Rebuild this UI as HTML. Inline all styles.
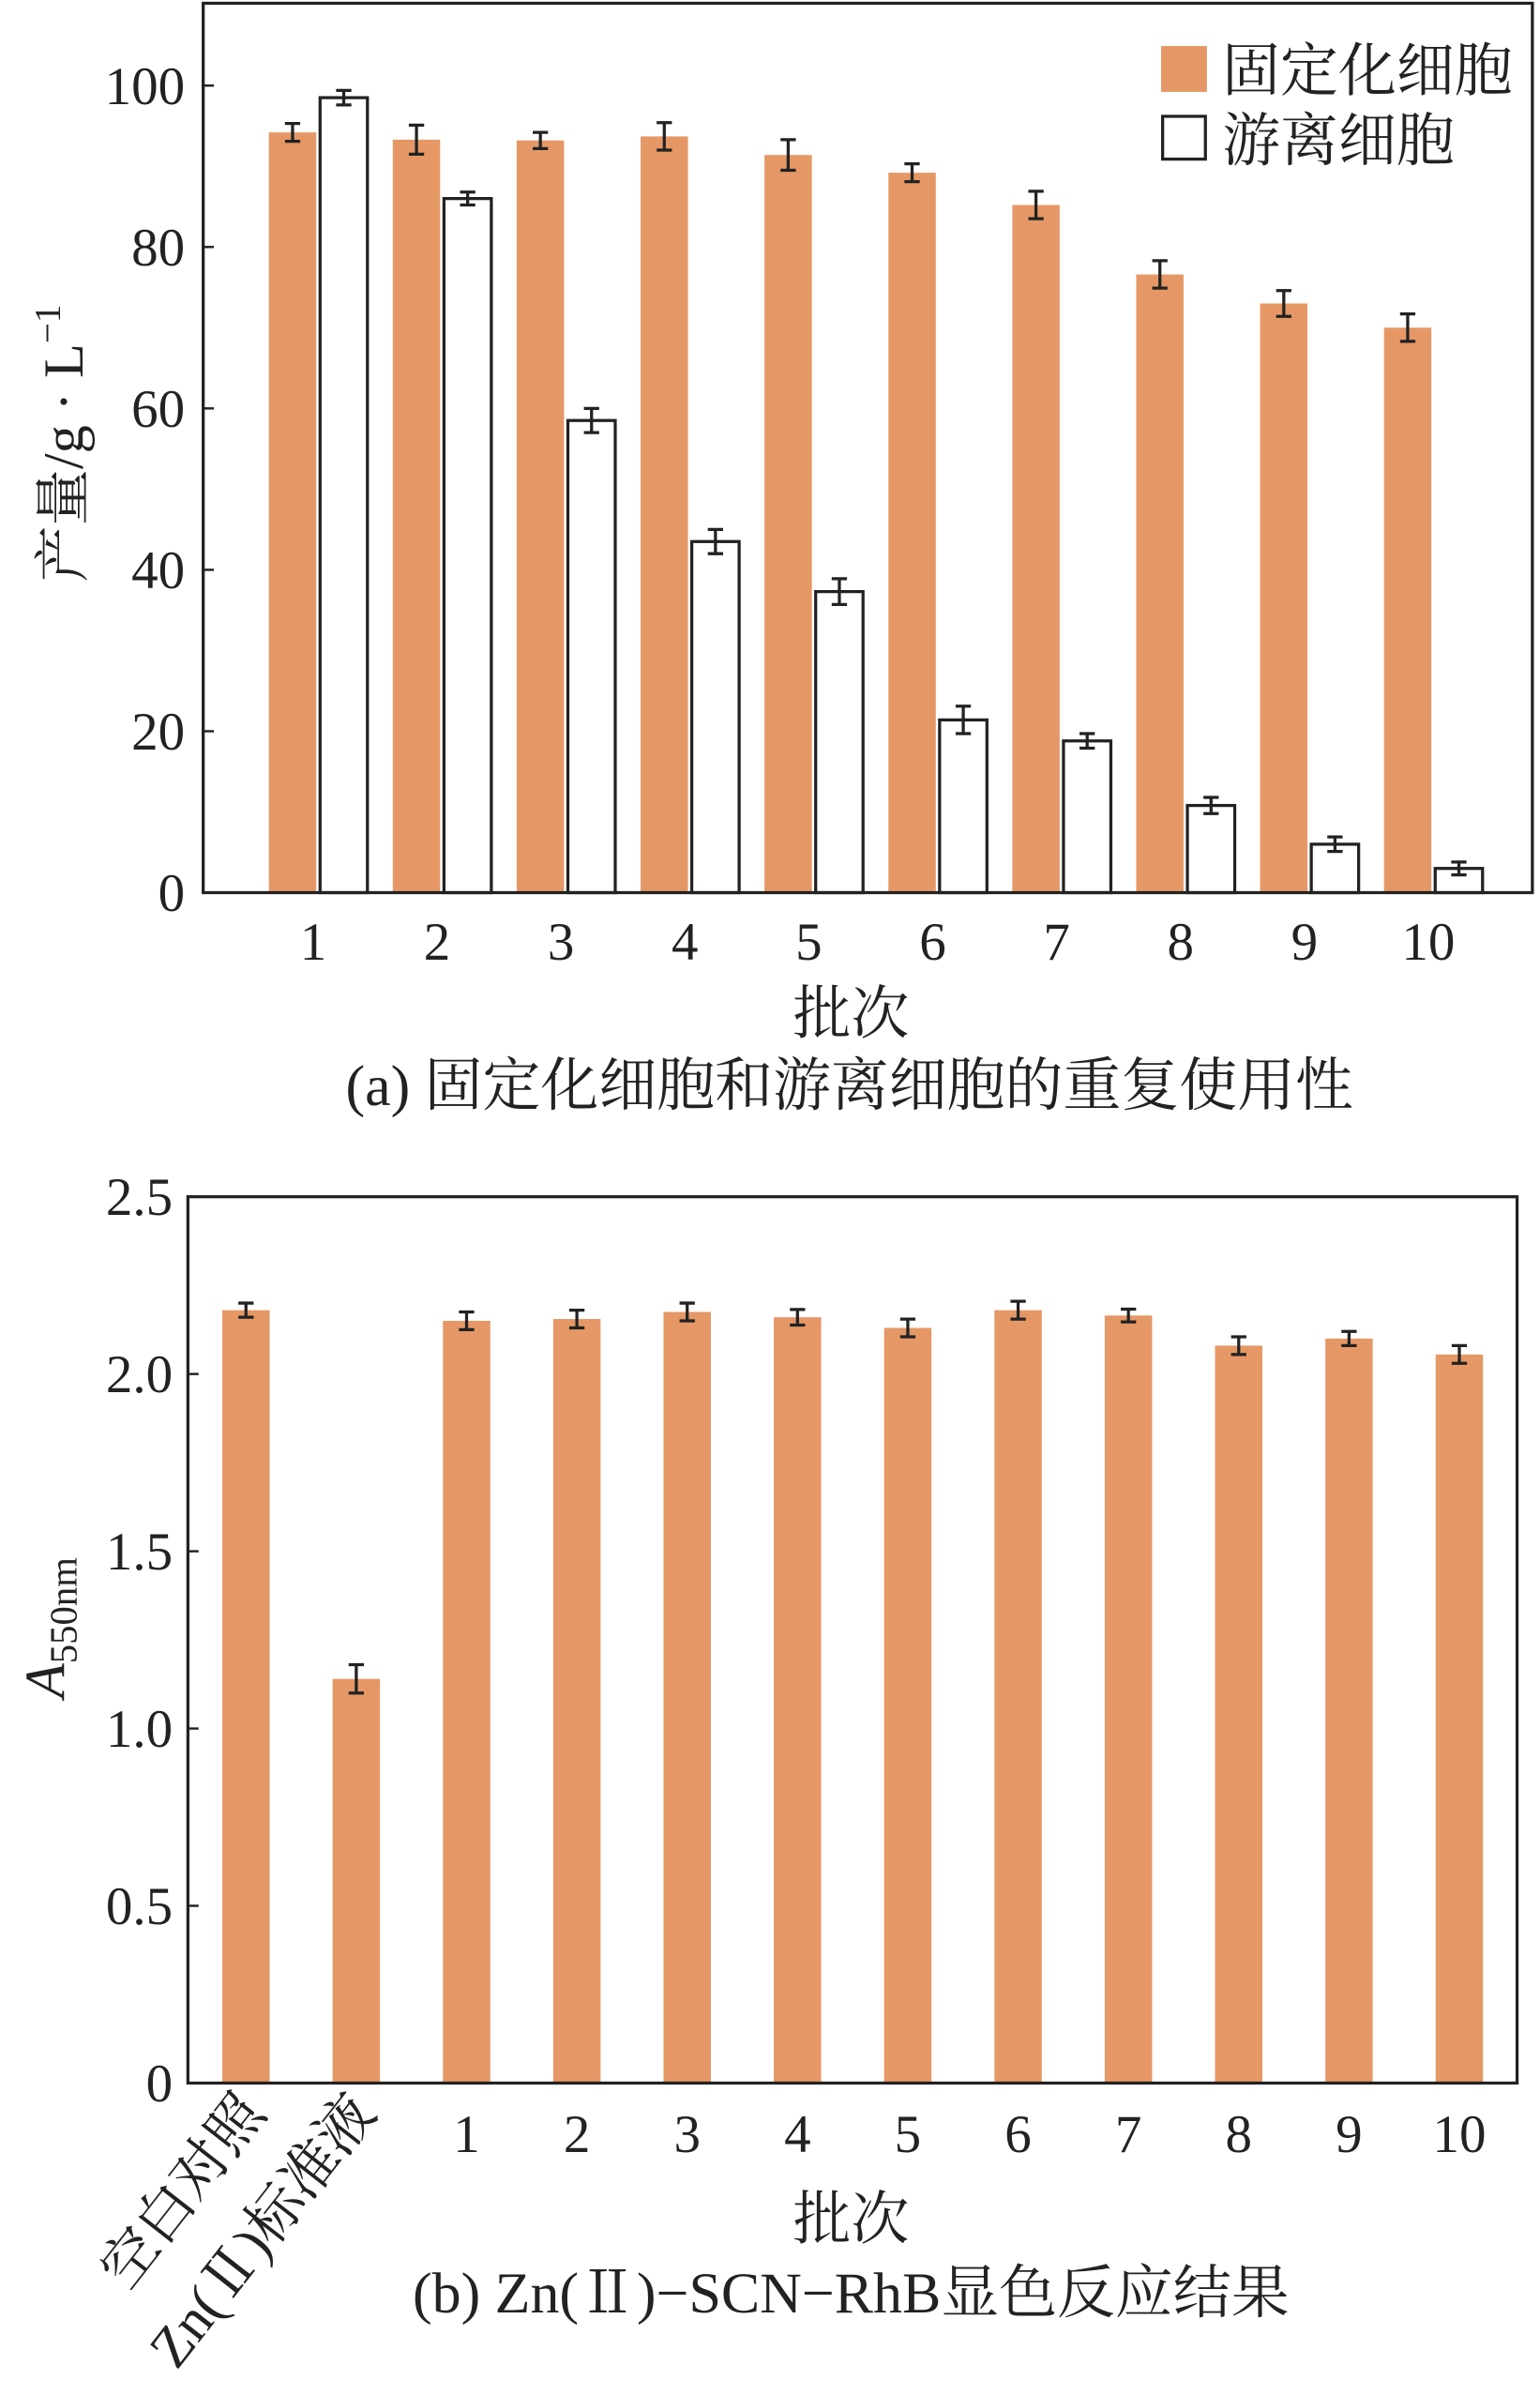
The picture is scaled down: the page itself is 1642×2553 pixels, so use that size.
<!DOCTYPE html>
<html><head><meta charset="utf-8"><style>
html,body{margin:0;padding:0;background:#fff}
svg{display:block}
text{font-family:"Liberation Serif","Noto Serif CJK SC",serif;fill:#222}
</style></head><body>
<svg id="chart" width="1642" height="2553" viewBox="0 0 1008 1567" xmlns="http://www.w3.org/2000/svg"></svg>
<script>
// Chart (a)
const catsA = ["1","2","3","4","5","6","7","8","9","10"];
const immob = [94.2,93.3,93.2,93.7,91.4,89.2,85.2,76.6,73.0,70.0];
const immobErr = [1.1,1.8,1.0,1.7,1.9,1.1,1.7,1.7,1.6,1.7];
const free = [98.5,86.0,58.5,43.5,37.3,21.4,18.8,10.8,6.0,3.0];
const freeErr = [0.9,0.8,1.5,1.5,1.6,1.7,0.9,1.0,0.9,0.8];
const ticksA = [0,20,40,60,80,100];
// Chart (b)
const catsB = ["空白对照","Zn(Ⅱ)标准液","1","2","3","4","5","6","7","8","9","10"];
const absB = [2.18,1.14,2.15,2.155,2.175,2.16,2.13,2.18,2.165,2.08,2.10,2.055];
const absErr = [0.02,0.04,0.025,0.025,0.025,0.022,0.025,0.025,0.018,0.025,0.02,0.025];
const ticksB = ["0","0.5","1.0","1.5","2.0","2.5"];

const svg = document.getElementById('chart');
const NS = "http://www.w3.org/2000/svg";
function mk(tag, attrs, parent){const e=document.createElementNS(NS,tag);for(const k in attrs)e.setAttribute(k,attrs[k]);(parent||svg).appendChild(e);return e;}
const ORANGE="#e59866";

// ---------- Chart A ----------
const A = {l:133,r:1003,t:2,b:584,max:110.2};
const yA = v => A.b - v/A.max*(A.b-A.t);
const xA = i => 205 + i*81.1;
const gA = mk('g',{});


ticksA.forEach(v=>{
  const ln=mk('line',{x1:A.l,x2:A.l+7,y1:yA(v),y2:yA(v),stroke:'#222','stroke-width':1.5},gA);
   
  const t=mk('text',{x:A.l-12,y:yA(v)+12,'text-anchor':'end','font-size':35},gA);
  t.textContent=v;
   
});
catsA.forEach((c,i)=>{
  const cx=xA(i);
  const b1=mk('rect',{x:cx-29,y:yA(immob[i]),width:31,height:A.b-yA(immob[i]),fill:ORANGE},gA);
   
  const b2=mk('rect',{x:cx+4.5,y:yA(free[i]),width:31,height:A.b-yA(free[i]),fill:'#fff',stroke:'#222','stroke-width':2},gA);
   
  [[cx-13.5,immob[i],immobErr[i]],[cx+20,free[i],freeErr[i]]].forEach(([x,v,e])=>{
    const p=mk('path',{d:`M${x-5} ${yA(v+e)}H${x+5}M${x} ${yA(v+e)}V${yA(v-e)}M${x-5} ${yA(v-e)}H${x+5}`,stroke:'#222','stroke-width':2,fill:'none'},gA);
     
  });
  const t=mk('text',{x:cx,y:628,'text-anchor':'middle','font-size':35},gA);
  t.textContent=c;
   
});
const frA=mk('rect',{x:A.l,y:A.t,width:A.r-A.l,height:A.b-A.t,fill:'none',stroke:'#222','stroke-width':2},gA);
 
// legend
const lg=mk('g',{},gA);
 
mk('rect',{x:760,y:30,width:30,height:30,fill:ORANGE},lg);
const l1=mk('text',{x:800,y:59,'font-size':38},lg); l1.textContent='固定化细胞';
 
mk('rect',{x:761,y:76,width:28,height:28,fill:'#fff',stroke:'#222','stroke-width':2},lg);
const l2=mk('text',{x:800,y:105,'font-size':38},lg); l2.textContent='游离细胞';
 
const yt=mk('text',{x:0,y:0,'font-size':37,'text-anchor':'middle',transform:'translate(54,290) rotate(-90)'},gA);
yt.innerHTML='产量/g · L<tspan dy="-15" font-size="24">−1</tspan>';
 
const xt=mk('text',{x:557,y:676,'text-anchor':'middle','font-size':38},gA); xt.textContent='批次';
 
const ca=mk('text',{x:556,y:723,'text-anchor':'middle','font-size':38},gA); ca.textContent='(a) 固定化细胞和游离细胞的重复使用性';
 

// ---------- Chart B ----------
const B = {l:123,r:993,t:783,b:1363,max:2.5};
const yB = v => B.b - v/B.max*(B.b-B.t);
const xB = i => 161 + i*72.2;
const gB = mk('g',{});


ticksB.forEach(s=>{
  const v=parseFloat(s);
  const ln=mk('line',{x1:B.l,x2:B.l+7,y1:yB(v),y2:yB(v),stroke:'#222','stroke-width':1.5},gB);
   
  const t=mk('text',{x:B.l-10,y:yB(v)+12,'text-anchor':'end','font-size':35},gB);
  t.textContent=s;
   
});
catsB.forEach((c,i)=>{
  const cx=xB(i);
  const b=mk('rect',{x:cx-15.5,y:yB(absB[i]),width:31,height:B.b-yB(absB[i]),fill:ORANGE},gB);
   
  const e=absErr[i], v=absB[i];
  const p=mk('path',{d:`M${cx-5} ${yB(v+e)}H${cx+5}M${cx} ${yB(v+e)}V${yB(v-e)}M${cx-5} ${yB(v-e)}H${cx+5}`,stroke:'#222','stroke-width':2,fill:'none'},gB);
   
  let t;
  if(i<2){
    t=mk('text',{x:0,y:0,'text-anchor':'end','font-size':37,transform:`translate(${cx+14},${1383}) rotate(-52)`},gB);
  } else {
    t=mk('text',{x:cx,y:1408,'text-anchor':'middle','font-size':35},gB);
  }
  t.textContent=c;
   
});
const frB=mk('rect',{x:B.l,y:B.t,width:B.r-B.l,height:B.b-B.t,fill:'none',stroke:'#222','stroke-width':2},gB);
 
const yt2=mk('text',{x:0,y:0,'font-size':37,'text-anchor':'middle',transform:'translate(42,1065) rotate(-90)'},gB);
yt2.innerHTML='<tspan font-style="italic">A</tspan><tspan dy="8" font-size="25">550nm</tspan>';
 
const xt2=mk('text',{x:557,y:1465,'text-anchor':'middle','font-size':38},gB); xt2.textContent='批次';
 
const cb=mk('text',{x:557,y:1513,'text-anchor':'middle','font-size':38},gB); cb.textContent='(b) Zn(Ⅱ)−SCN−RhB显色反应结果';
 
</script>
</body></html>
